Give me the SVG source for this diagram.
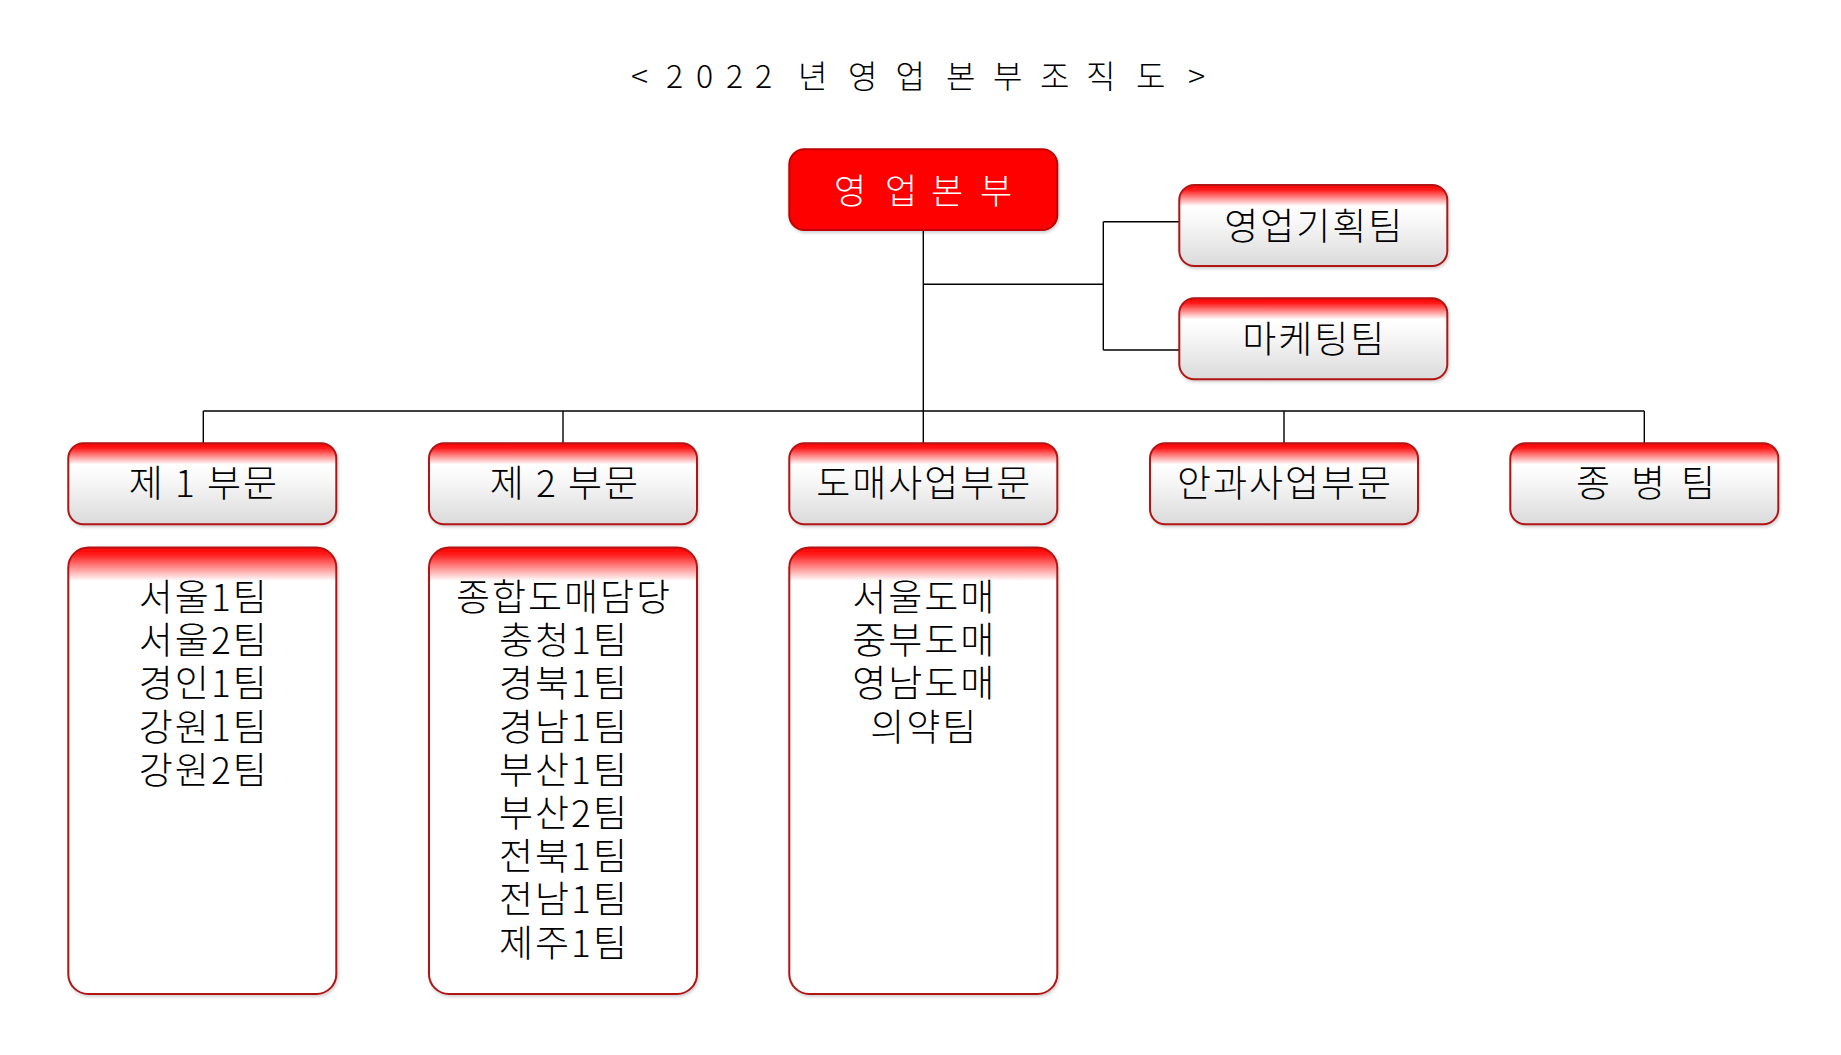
<svg xmlns="http://www.w3.org/2000/svg" width="1841" height="1055" viewBox="0 0 1841 1055">
<style>
  text { font-family: "Noto Sans CJK KR", "Noto Sans", sans-serif; fill: #000; font-weight: 300; }
  .title { font-size: 32px; }
  .lbl { font-size: 37px; text-anchor: middle; letter-spacing: 2px; }
  .det { font-size: 37px; text-anchor: middle; letter-spacing: 2px; }
  .white { fill: #FFFFFF; font-size: 35px; }
  .box { fill: url(#gBox); stroke: #B01515; stroke-width: 2; filter: url(#sh); }
  .dbox { fill: url(#gDet); stroke: #B01515; stroke-width: 2; filter: url(#sh); }
  .top { fill: #FF0000; stroke: #C00000; stroke-width: 2; filter: url(#sh); }
  .conn { fill: none; stroke: #000; stroke-width: 1.4; }
</style>
<defs>
  <linearGradient id="gBox" x1="0" y1="0" x2="0" y2="1">
    <stop offset="0" stop-color="#FF0000"/>
    <stop offset="0.06" stop-color="#FF1A1A"/>
    <stop offset="0.26" stop-color="#FFFFFF"/>
    <stop offset="0.45" stop-color="#F8F8F8"/>
    <stop offset="1" stop-color="#DADADA"/>
  </linearGradient>
  <linearGradient id="gDet" x1="0" y1="0" x2="0" y2="1">
    <stop offset="0" stop-color="#FF0000"/>
    <stop offset="0.015" stop-color="#FF1A1A"/>
    <stop offset="0.075" stop-color="#FFFFFF"/>
    <stop offset="1" stop-color="#FFFFFF"/>
  </linearGradient>
  <filter id="sh" x="-5%" y="-5%" width="110%" height="115%">
    <feDropShadow dx="1" dy="2" stdDeviation="1.5" flood-color="#000" flood-opacity="0.18"/>
  </filter>
</defs>
<rect width="1841" height="1055" fill="#FFFFFF"/>

<text class="title" id="title" x="631 650 666 685 696 715 726 742 755 780 798 830 848 878 895.5 926 946 975 993 1022 1040 1070 1086 1118 1136 1168 1188" y="88">&lt; 2 0 2 2 년 영 업 본 부 조 직 도 &gt;</text>

<g id="connectors">
  <path class="conn" d="M923.3 230 V443"/>
  <path class="conn" d="M203.3 411 H1644.3"/>
  <path class="conn" d="M203.3 411 V443"/>
  <path class="conn" d="M563 411 V443"/>
  <path class="conn" d="M1284 411 V443"/>
  <path class="conn" d="M1644.3 411 V443"/>
  <path class="conn" d="M923.3 284.3 H1103.3"/>
  <path class="conn" d="M1103.3 221.7 V350"/>
  <path class="conn" d="M1103.3 221.7 H1179.3"/>
  <path class="conn" d="M1103.3 350 H1179.3"/>
</g>

<g id="node-hq">
  <rect class="top" x="789.3" y="149.3" width="268" height="80.7" rx="15"/>
  <text class="white" x="834 852 885 904 931 950 980" y="204">영 업 본 부</text>
</g>

<g id="node-plan">
  <rect class="box" x="1179.3" y="185" width="268" height="81" rx="15"/>
  <text class="lbl" x="1314.3" y="239.5">영업기획팀</text>
</g>
<g id="node-marketing">
  <rect class="box" x="1179.3" y="298.3" width="268" height="81" rx="15"/>
  <text class="lbl" x="1314.3" y="353">마케팅팀</text>
</g>

<g id="node-div1">
  <rect class="box" x="68.3" y="443.3" width="268" height="81" rx="15"/>
  <text class="lbl" x="204" y="497">제 1 부문</text>
</g>
<g id="node-div2">
  <rect class="box" x="429" y="443.3" width="268" height="81" rx="15"/>
  <text class="lbl" x="565" y="497">제 2 부문</text>
</g>
<g id="node-wholesale">
  <rect class="box" x="789.3" y="443.3" width="268" height="81" rx="15"/>
  <text class="lbl" x="924.3" y="497">도매사업부문</text>
</g>
<g id="node-eye">
  <rect class="box" x="1150" y="443.3" width="268" height="81" rx="15"/>
  <text class="lbl" x="1285" y="497">안과사업부문</text>
</g>
<g id="node-hospital">
  <rect class="box" x="1510.3" y="443.3" width="268" height="81" rx="15"/>
  <text class="lbl" x="1576 1600 1631 1660 1681" y="497" style="text-anchor:start;letter-spacing:0">종 병 팀</text>
</g>

<g id="node-div1-teams">
  <rect class="dbox" x="68.3" y="547.5" width="268" height="446.5" rx="20"/>
  <text class="det"><tspan x="203.8" y="611">서울1팀</tspan><tspan x="203.8" y="654.2">서울2팀</tspan><tspan x="203.8" y="697.4">경인1팀</tspan><tspan x="203.8" y="740.6">강원1팀</tspan><tspan x="203.8" y="783.8">강원2팀</tspan></text>
</g>
<g id="node-div2-teams">
  <rect class="dbox" x="429" y="547.5" width="268" height="446.5" rx="20"/>
  <text class="det"><tspan x="564" y="611">종합도매담당</tspan><tspan x="564" y="654.2">충청1팀</tspan><tspan x="564" y="697.4">경북1팀</tspan><tspan x="564" y="740.6">경남1팀</tspan><tspan x="564" y="783.8">부산1팀</tspan><tspan x="564" y="827">부산2팀</tspan><tspan x="564" y="870.2">전북1팀</tspan><tspan x="564" y="913.4">전남1팀</tspan><tspan x="564" y="956.6">제주1팀</tspan></text>
</g>
<g id="node-wholesale-teams">
  <rect class="dbox" x="789.3" y="547.5" width="268" height="446.5" rx="20"/>
  <text class="det"><tspan x="924.3" y="611">서울도매</tspan><tspan x="924.3" y="654.2">중부도매</tspan><tspan x="924.3" y="697.4">영남도매</tspan><tspan x="924.3" y="740.6">의약팀</tspan></text>
</g>
</svg>
